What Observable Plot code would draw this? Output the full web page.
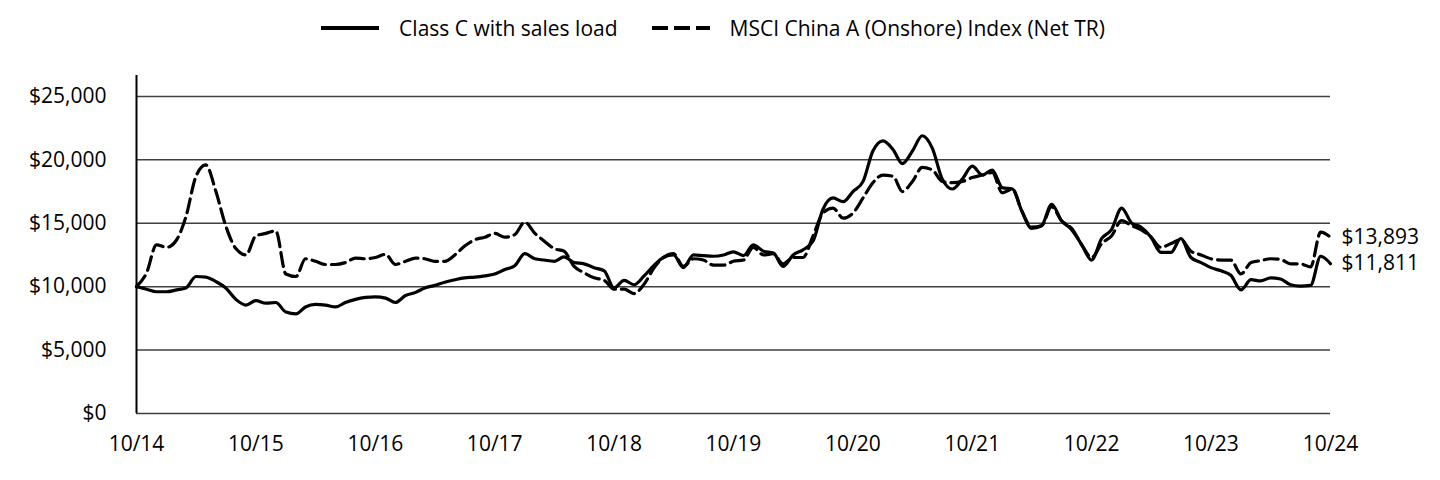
<!DOCTYPE html>
<html>
<head>
<meta charset="utf-8">
<script src="https://cdn.jsdelivr.net/npm/d3@7"></script>
<script src="https://cdn.jsdelivr.net/npm/@observablehq/plot@0.6"></script>
<style>
  html, body { margin: 0; padding: 0; background: #fff; }
  body { width: 1440px; height: 480px; overflow: hidden; font-family: "Open Sans", sans-serif; }
  #legend { height: 55px; display: flex; justify-content: center; align-items: center; font-size: 21px; color: #000; padding-right: 14px; }
  .item { display: flex; align-items: center; margin: 0 17px; }
  .item svg { margin-right: 20px; }
</style>
</head>
<body>
<div id="legend"></div>
<div id="chart"></div>
<script>
// Monthly values, Oct 2014 .. Oct 2024 (121 points)
const startMonth = "2014-10-01";
const classC = [
  10000, 9800, 9600, 9600, 9750, 9900, 10800, 10750, 10400, 9900,
  9000, 8550, 8900, 8700, 8750, 8000, 7850, 8400, 8600, 8550,
  8400, 8750, 9000, 9150, 9200, 9100, 8750, 9300, 9550, 9900,
  10100, 10350, 10550, 10700, 10750, 10850, 11000, 11350, 11650, 12600,
  12200, 12100, 12000, 12350, 11900, 11800, 11500, 11250, 9900, 10500,
  10150, 10850, 11700, 12300, 12500, 11500, 12500, 12450, 12400, 12500,
  12750, 12450, 13300, 12800, 12650, 11600, 12500, 12900, 13600, 16100,
  17000, 16700, 17500, 18300, 20700, 21500, 20800, 19700, 20700, 21900,
  20900, 18500, 17700, 18500, 19500, 18800, 19200, 17800, 17700, 16000,
  14600, 14800, 16500, 15200, 14500, 13300, 12100, 13800, 14500, 16200,
  15000, 14700, 13900, 12700, 12700, 13800, 12300, 11900, 11500, 11250,
  10900, 9750, 10550, 10450, 10700, 10600, 10150, 10050, 10100, 12400,
  11811
];
const msci = [
  10000, 11100, 13300, 13100, 13700, 15500, 18700, 19600, 17500, 14800,
  13000, 12500, 14000, 14200, 14400, 11000, 10800, 12200, 12000, 11750,
  11750, 11900, 12250, 12200, 12300, 12550, 11750, 12000, 12250, 12200,
  12000, 12000, 12500, 13200, 13700, 13900, 14200, 13900, 14100, 15100,
  14200, 13600, 13000, 12800, 11600, 11100, 10700, 10500, 9800, 9800,
  9450, 10200, 11500, 12300, 12600, 11600, 12200, 12100, 11700, 11700,
  12000, 12100, 13100, 12500, 12600, 11800, 12300, 12300, 14000, 15800,
  16200, 15400, 15800, 17000, 18200, 18800, 18700, 17500, 18300, 19400,
  19200, 18300, 18200, 18300, 18600, 18800, 19000, 17400, 17700, 16000,
  14700, 14800, 16300, 15200, 14600, 13300, 12300, 13400, 14000, 15200,
  14800, 14500, 13900, 13100, 13400, 13700, 12800, 12500, 12200, 12100,
  12100, 11000, 11900, 12050, 12200, 12150, 11800, 11800, 11550, 14300,
  13893
];
const seriesNames = ["Class C with sales load", "MSCI China A (Onshore) Index (Net TR)"];
const endLabels = ["$11,811", "$13,893"];
const yTicks = [0, 5000, 10000, 15000, 20000, 25000];
const xTickLabels = ["10/14","10/15","10/16","10/17","10/18","10/19","10/20","10/21","10/22","10/23","10/24"];

const start = new Date(startMonth + "T00:00:00Z");
const dates = d3.utcMonth.range(start, d3.utcMonth.offset(start, classC.length));
const dataC = classC.map((v, i) => ({date: dates[i], value: v}));
const dataM = msci.map((v, i) => ({date: dates[i], value: v}));
const xTicks = xTickLabels.map((_, i) => d3.utcYear.offset(start, i));
const endData = [
  {date: dates[dates.length - 1], value: classC[classC.length - 1], label: endLabels[0]},
  {date: dates[dates.length - 1], value: msci[msci.length - 1], label: endLabels[1]}
];

// Legend
const legend = document.getElementById("legend");
legend.innerHTML = `
  <div class="item"><svg width="58" height="8"><line x1="0" y1="4" x2="58" y2="4" stroke="#000" stroke-width="4"/></svg>${seriesNames[0]}</div>
  <div class="item"><svg width="58" height="8"><line x1="0" y1="4" x2="58" y2="4" stroke="#000" stroke-width="4" stroke-dasharray="16,6"/></svg>${seriesNames[1]}</div>`;

const chart = Plot.plot({
  width: 1440,
  height: 425,
  marginLeft: 136,
  marginRight: 110,
  marginTop: 20,
  marginBottom: 67,
  style: {fontFamily: "Open Sans, sans-serif", fontSize: "21px", color: "#000", background: "#fff"},
  x: {type: "utc", domain: [dates[0], dates[dates.length - 1]]},
  y: {domain: [0, 26650]},
  marks: [
    Plot.ruleY(yTicks, {stroke: "#404040", strokeWidth: 1.5}),
    Plot.ruleX([dates[0]], {y1: 0, y2: 26650, stroke: "#000", strokeWidth: 2}),
    Plot.axisY({ticks: yTicks, tickSize: 0, tickPadding: 30, tickFormat: d => "$" + d3.format(",")(d), label: null, fontSize: 21}),
    Plot.axisX({ticks: xTicks, tickSize: 0, tickPadding: 23, tickFormat: (d, i) => xTickLabels[i], label: null, fontSize: 21}),
    Plot.line(dataM, {x: "date", y: "value", stroke: "#000", strokeWidth: 3.2, strokeDasharray: "14,6", curve: "monotone-x"}),
    Plot.line(dataC, {x: "date", y: "value", stroke: "#000", strokeWidth: 3.2, curve: "monotone-x"}),
    Plot.text(endData, {x: "date", y: "value", text: "label", textAnchor: "start", dx: 11, fontSize: 21, fill: "#000"})
  ]
});
document.getElementById("chart").appendChild(chart);
</script>
</body>
</html>
